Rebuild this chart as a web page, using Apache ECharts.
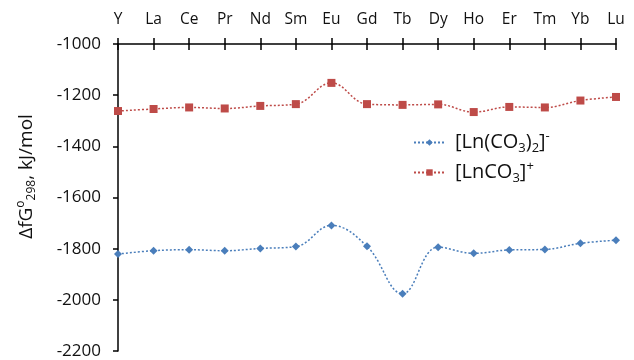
<!DOCTYPE html>
<html><head><meta charset="utf-8">
<script src="https://cdn.jsdelivr.net/npm/echarts@6/dist/echarts.min.js"></script>
<style>html,body{margin:0;padding:0;background:#fff}#c{width:634px;height:360px}</style>
</head><body><div id="c"></div>
<script>
var categories = ['Y','La','Ce','Pr','Nd','Sm','Eu','Gd','Tb','Dy','Ho','Er','Tm','Yb','Lu'];
var anionValues = [-1821,-1808,-1804,-1808,-1799,-1792,-1709,-1791,-1976,-1794,-1818,-1805,-1803,-1779,-1767];
var cationValues = [-1262,-1254,-1248,-1252,-1242,-1235,-1152,-1235,-1238,-1236,-1266,-1246,-1248,-1221,-1207];
var yTicks = {min:-2200, max:-1000, interval:200};

var font = 'Open Sans';
var chart = echarts.init(document.getElementById('c'));
chart.setOption({
  animation:false,
  textStyle:{fontFamily:font},
  grid:{left:118, right:18, top:44, bottom:9, containLabel:false},
  legend:{
    orient:'vertical', left:413, top:130, itemWidth:31, itemHeight:8, itemGap:5,
    padding:0,
    formatter:function(n){
      if(n==='a') return '{t|[Ln(CO}{sub|3}{t|)}{sub|2}{t|]}{sup|-}';
      return '{t|[LnCO}{sub|3}{t|]}{sup|+}';
    },
    textStyle:{color:'#111', fontFamily:font, padding:[0,0,0,5], rich:{
      t:{fontSize:20, color:'#111', fontFamily:font, verticalAlign:'middle'},
      sub:{fontSize:13, color:'#111', fontFamily:font, padding:[12,0,0,0]},
      sup:{fontSize:13, color:'#111', fontFamily:font, padding:[0,0,12,0]}
    }},
    data:['a','b']
  },
  xAxis:[{
    type:'category', data:categories, position:'top', boundaryGap:false,
    axisLine:{lineStyle:{color:'#000', width:1.5}},
    axisTick:{show:true, alignWithLabel:true, length:6, inside:false, lineStyle:{color:'#000', width:1.5}},
    axisLabel:{color:'#111', fontSize:15.5, fontFamily:font, margin:16},
    splitLine:{show:false}
  },{
    type:'category', data:categories, position:'top', boundaryGap:false,
    axisLine:{show:false},
    axisTick:{show:true, length:6, inside:true, lineStyle:{color:'#000', width:1.5}},
    axisLabel:{show:false}, splitLine:{show:false}
  }],
  yAxis:{
    type:'value', min:yTicks.min, max:yTicks.max, interval:yTicks.interval,
    axisLine:{show:true, lineStyle:{color:'#000', width:1.5}},
    axisTick:{show:true, length:5, lineStyle:{color:'#000', width:1.5}},
    axisLabel:{color:'#111', fontSize:17, fontFamily:font, margin:17, formatter:function(v){return String(v);}},
    splitLine:{show:false},
    name:'{t|ΔfG}{sup|o}{sub|298}{t|, kJ/mol}',
    nameLocation:'middle', nameGap:80, nameRotate:90,
    nameTextStyle:{padding:[0,0,0,42], rich:{
      t:{fontSize:19, color:'#111', fontFamily:font},
      sup:{fontSize:12, color:'#111', fontFamily:font, padding:[0,0,11,0]},
      sub:{fontSize:12, color:'#111', fontFamily:font, padding:[11,0,0,0]}
    }}
  },
  series:[{
    name:'a', type:'line', data:anionValues, smooth:0.4,
    symbol:'diamond', symbolSize:8,
    itemStyle:{color:'#4a7ebb'},
    lineStyle:{color:'#4a7ebb', width:1.5, type:[2,2]}
  },{
    name:'b', type:'line', data:cationValues, smooth:0.4,
    symbol:'rect', symbolSize:8,
    itemStyle:{color:'#be4b48'},
    lineStyle:{color:'#be4b48', width:1.5, type:[2,2]}
  }]
});
</script></body></html>
